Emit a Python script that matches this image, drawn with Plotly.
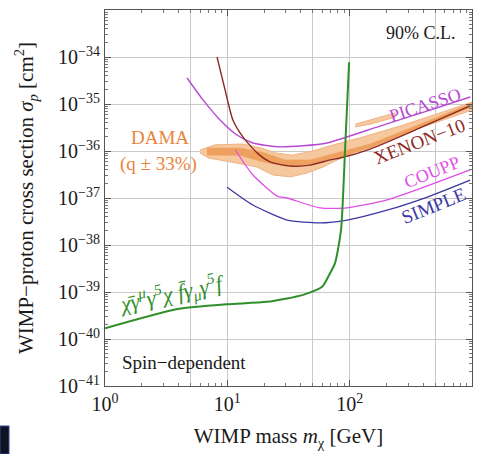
import plotly.graph_objects as go

# ---------------- data ----------------
green_m = [1.0, 3.95, 10.0, 21.1, 41.6, 59.5, 67.9, 76.0, 85.0, 91.7, 98.9]
green_sigma = [1.7e-40, 4.37e-40, 5.5e-40, 6.17e-40, 8.7e-40, 1.29e-39, 2.3e-39, 4.17e-39, 2.09e-38, 1.05e-36, 7.76e-35]

picasso_m = [4.68, 6.33, 8.71, 12.0, 16.2, 25.5, 41.6, 65.3, 177, 454, 966]
picasso_sigma = [3.57e-35, 1.22e-35, 4.57e-36, 2.19e-36, 1.48e-36, 1.23e-36, 1.29e-36, 1.48e-36, 3.39e-36, 7.41e-36, 1.41e-35]

xenon_m = [8.24, 9.58, 11.1, 13.4, 17.5, 22.3, 32.6, 47.5, 69.2, 83.5, 147, 376, 966]
xenon_sigma = [1.0e-34, 2.0e-35, 4.57e-36, 2.0e-36, 9.12e-37, 5.89e-37, 4.79e-37, 5.0e-37, 6.46e-37, 7.08e-37, 1.1e-36, 3.09e-36, 9.1e-36]

coupp_m = [11.6, 16.2, 25.5, 30.8, 57.3, 95.2, 202, 454, 966]
coupp_sigma = [1.05e-36, 3.09e-37, 1.1e-37, 1.0e-37, 6.17e-38, 6.17e-38, 9.12e-38, 1.91e-37, 3.98e-37]

simple_m = [9.95, 16.2, 30.8, 57.3, 95.2, 202, 454, 966]
simple_sigma = [1.7e-37, 7.08e-38, 3.39e-38, 2.95e-38, 3.39e-38, 5.5e-38, 1.1e-37, 2.4e-37]

# DAMA allowed region (outer contour, closed) plus a small detached patch
dama_m = [5.98, 7.93, 13.4, 19.2, 24.5, 33.8, 50.2, 69.2, 122, 258, 548, 1000,
          1000, 548, 258, 147, 88.3, 60.6, 44.9, 32.6, 23.6, 17.5, 10.5, 7.0, 5.98,
          None,
          111, 147, 235, 235, 147, 111]
dama_sigma = [1.05e-36, 1.35e-36, 1.41e-36, 1.15e-36, 9.12e-37, 8.13e-37, 1.0e-36, 1.29e-36, 1.91e-36, 3.39e-36, 6.46e-36, 1.1e-35,
              7.41e-36, 4.37e-36, 2.29e-36, 1.35e-36, 7.41e-37, 4.57e-37, 3.39e-37, 2.82e-37, 3.09e-37, 4.57e-37, 5.89e-37, 7.08e-37, 9.12e-37,
              None,
              3.72e-36, 4.57e-36, 6.46e-36, 5.25e-36, 3.72e-36, 3.24e-36]
# DAMA denser core
dama_core_m = [6.82, 12.7, 19.2, 29.6, 47.5, 83.5, 147, 376, 1000,
               1000, 376, 147, 83.5, 47.5, 29.6, 19.2, 12.7, 6.82]
dama_core_sigma = [1.16e-36, 1.16e-36, 9.55e-37, 6.46e-37, 6.46e-37, 9.55e-37, 1.41e-36, 3.72e-36, 1.05e-35,
                   8.71e-36, 3.09e-36, 1.16e-36, 7.41e-37, 5.25e-37, 4.79e-37, 5.89e-37, 8.13e-37, 8.13e-37]

x_tickvals = [1, 5, 10, 50, 100, 500, 1000]
x_ticktext = ["10<sup>0</sup>", "", "10<sup>1</sup>", "", "10<sup>2</sup>", "", "10<sup>3</sup>"]
y_tickvals = [1e-41, 1e-40, 1e-39, 1e-38, 1e-37, 1e-36, 1e-35, 1e-34]
y_ticktext = ["10<sup>−41</sup>", "10<sup>−40</sup>", "10<sup>−39</sup>", "10<sup>−38</sup>",
              "10<sup>−37</sup>", "10<sup>−36</sup>", "10<sup>−35</sup>", "10<sup>−34</sup>"]

x_minor = [k * 10 ** d for d in range(0, 3) for k in range(2, 10)]
y_minor = [k * 10.0 ** d for d in range(-41, -33) for k in range(2, 10)]

FONT = "Liberation Serif"
C_GREEN = "#2f8f2a"
C_PICASSO = "#b64ad2"
C_XENON = "#8e2a24"
C_COUPP = "#e04fe6"
C_SIMPLE = "#3d37a3"
C_DAMA = "#e8843a"

fig = go.Figure()

fig.add_trace(go.Scatter(x=dama_m, y=dama_sigma, mode="lines", fill="toself",
                         fillcolor="#f6c89e", line=dict(color="#f0b283", width=1),
                         hoverinfo="skip", showlegend=False))
fig.add_trace(go.Scatter(x=dama_core_m, y=dama_core_sigma, mode="lines", fill="toself",
                         fillcolor="#eea15e", line=dict(color="#eea15e", width=0.5),
                         hoverinfo="skip", showlegend=False))

for xs, ys, c, w in [(picasso_m, picasso_sigma, C_PICASSO, 1.4),
                     (xenon_m, xenon_sigma, C_XENON, 1.4),
                     (coupp_m, coupp_sigma, C_COUPP, 1.3),
                     (simple_m, simple_sigma, C_SIMPLE, 1.3),
                     (green_m, green_sigma, C_GREEN, 2.0)]:
    fig.add_trace(go.Scatter(x=xs, y=ys, mode="lines",
                             line=dict(color=c, width=w, shape="spline", smoothing=0.6),
                             showlegend=False, hoverinfo="skip"))

axis_common = dict(
    showline=True, linecolor="#555555", linewidth=1, mirror="allticks",
    ticks="inside", ticklen=6, tickcolor="#555555",
    showgrid=True, gridcolor="#c9c9c9", gridwidth=1,
    zeroline=False, automargin=False,
    tickfont=dict(family=FONT, size=20, color="#1a1a1a"),
)

fig.update_xaxes(type="log", range=[0, 3], tickmode="array",
                 tickvals=x_tickvals, ticktext=x_ticktext,
                 minor=dict(tickmode="array", tickvals=x_minor, ticks="inside",
                            ticklen=3, tickcolor="#777777", showgrid=False),
                 title=dict(text="WIMP mass <i>m</i><sub>χ</sub> [GeV]",
                            font=dict(family=FONT, size=21, color="#1a1a1a"), standoff=14),
                 **axis_common)
fig.update_yaxes(type="log", range=[-41, -33], tickmode="array",
                 tickvals=y_tickvals, ticktext=y_ticktext,
                 minor=dict(tickmode="array", tickvals=y_minor, ticks="inside",
                            ticklen=3, tickcolor="#777777", showgrid=False),
                 title=dict(text="WIMP−proton cross section <i>σ</i><sub><i>p</i></sub> [cm<sup>2</sup>]",
                            font=dict(family=FONT, size=21, color="#1a1a1a"), standoff=18),
                 **axis_common)

def label(text, px, py, color, size, angle=0, italic=False):
    fig.add_annotation(text=("<i>%s</i>" % text) if italic else text,
                       xref="paper", yref="paper",
                       x=(px - 105) / 367.0, y=(386 - py) / 376.0,
                       xanchor="center", yanchor="middle", showarrow=False,
                       textangle=angle,
                       font=dict(family=FONT, size=size, color=color))

label("90% C.L.", 421, 33, "#1a1a1a", 18)
label("DAMA", 160, 137, C_DAMA, 19)
label("(q ± 33%)", 158, 164, C_DAMA, 19)
label("Spin−dependent", 184, 362, "#1a1a1a", 19)
label("PICASSO", 425, 105, C_PICASSO, 18, -18)
label("XENON−10", 419, 141, C_XENON, 19, -21)
label("COUPP", 432, 172, C_COUPP, 18, -22)
label("SIMPLE", 434, 206, C_SIMPLE, 19, -22)
label("χ̄γ<sup>μ</sup>γ<sup>5</sup>χ f̄γ<sub>μ</sub>γ<sup>5</sup>f", 172, 293, C_GREEN, 22, -12, italic=True)

# small dark mark at lower-left corner of the cropped figure
fig.add_shape(type="rect", xref="paper", yref="paper",
              x0=(0 - 105) / 367.0, x1=(9 - 105) / 367.0,
              y0=(386 - 454) / 376.0, y1=(386 - 426) / 376.0,
              fillcolor="#111122", line=dict(color="#2a4a9a", width=1))

fig.update_layout(
    width=480, height=454,
    margin=dict(l=105, r=8, t=10, b=68),
    paper_bgcolor="white", plot_bgcolor="white",
    font=dict(family=FONT),
)

fig.write_html("out.html")
